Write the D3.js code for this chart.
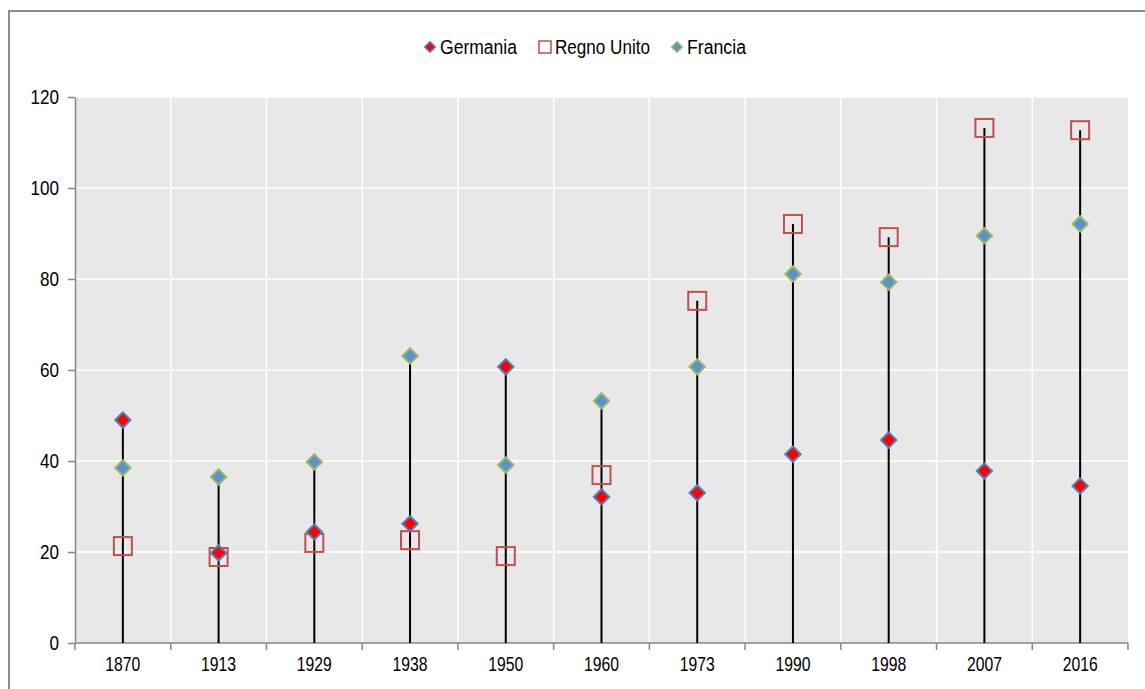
<!DOCTYPE html>
<html>
<head>
<meta charset="utf-8">
<script src="https://cdn.jsdelivr.net/npm/d3@7"></script>
<style>
body { margin: 0; background: #fff; }
text { font-family: "Liberation Sans", Arial, sans-serif; }
</style>
</head>
<body>
<div id="canvas"></div>
<script>
// data
var years = ["1870","1913","1929","1938","1950","1960","1973","1990","1998","2007","2016"];
var germania = [49.0, 19.8, 24.4, 26.2, 60.7, 32.1, 33.0, 41.5, 44.6, 37.8, 34.5];
var regnoUnito = [21.3, 18.9, 22.0, 22.6, 19.1, 36.9, 75.2, 92.1, 89.2, 113.2, 112.7];
var francia = [38.5, 36.5, 39.8, 63.1, 39.1, 53.2, 60.7, 81.1, 79.3, 89.5, 92.1];
var yTicks = [0, 20, 40, 60, 80, 100, 120];

var w = 1145, h = 689;
var pLeft = 75, pRight = 1128, pTop = 97, pBottom = 643;
var fs = "20px";

var paper = d3.select("#canvas").append("svg")
	.attr("width", w)
	.attr("height", h);

// outer frame
paper.append("rect")
	.attr("x", 9).attr("y", 11)
	.attr("width", 1150).attr("height", 700)
	.style("fill", "#fff")
	.style("stroke", "#8c8c8c")
	.style("stroke-width", 2);

var x = d3.scaleBand().domain(years).range([pLeft, pRight]);
var y = d3.scaleLinear().domain([0, 120]).range([pBottom, pTop]);

// plot background
paper.append("rect")
	.attr("x", pLeft).attr("y", pTop)
	.attr("width", pRight - pLeft).attr("height", pBottom - pTop)
	.style("fill", "#e8e8e8");

// grid lines
paper.selectAll(".hgrid").data(yTicks.slice(1)).enter()
	.append("line")
	.attr("x1", pLeft).attr("x2", pRight)
	.attr("y1", d => y(d)).attr("y2", d => y(d))
	.style("stroke", "#fff").style("stroke-width", 1.5);

paper.selectAll(".vgrid").data(years.slice(1)).enter()
	.append("line")
	.attr("x1", d => x(d)).attr("x2", d => x(d))
	.attr("y1", pTop).attr("y2", pBottom)
	.style("stroke", "#fff").style("stroke-width", 1.5);

// axes (text squeezed a bit, the original font is narrow)
var yAxis = paper.append("g")
	.attr("transform", "translate(" + pLeft + ",0)")
	.call(d3.axisLeft(y).tickValues(yTicks).tickSize(7).tickSizeOuter(0).tickPadding(9));
yAxis.selectAll("text")
	.style("font-size", fs).style("fill", "#000")
	.attr("textLength", d => String(d).length * 9.5)
	.attr("lengthAdjust", "spacingAndGlyphs");

var xAxis = paper.append("g")
	.attr("transform", "translate(0," + pBottom + ")")
	.call(d3.axisBottom(x).tickSize(0).tickPadding(14));
xAxis.selectAll("text")
	.style("font-size", fs).style("fill", "#000")
	.attr("textLength", 35)
	.attr("lengthAdjust", "spacingAndGlyphs");
xAxis.select(".domain").remove();

// x tick marks on category boundaries
paper.selectAll(".xtick").data(years.concat([null])).enter()
	.append("line")
	.attr("x1", (d, i) => pLeft + i * x.step())
	.attr("x2", (d, i) => pLeft + i * x.step())
	.attr("y1", pBottom).attr("y2", pBottom + 7)
	.style("stroke", "#868686").style("stroke-width", 1.5);

paper.append("line")
	.attr("x1", pLeft).attr("x2", pRight)
	.attr("y1", pBottom).attr("y2", pBottom)
	.style("stroke", "#868686").style("stroke-width", 1.5);

paper.selectAll(".domain, .tick line")
	.style("stroke", "#868686").style("stroke-width", 1.5);

// hi-lo lines
var cx = d => x(d) + x.bandwidth() / 2;
paper.selectAll(".hilo").data(years).enter()
	.append("line")
	.attr("x1", cx).attr("x2", cx)
	.attr("y1", y(0))
	.attr("y2", (d, i) => y(Math.max(germania[i], regnoUnito[i], francia[i])))
	.style("stroke", "#000").style("stroke-width", 2);

var diamond = d3.symbol().type(d3.symbolDiamond2).size(150);

function drawDiamonds(vals, fill, stroke) {
	paper.selectAll(null).data(vals).enter()
		.append("path")
		.attr("d", diamond)
		.attr("transform", (d, i) => "translate(" + cx(years[i]) + "," + y(d) + ")")
		.style("fill", fill).style("stroke", stroke).style("stroke-width", 2);
}

// Regno Unito squares
paper.selectAll(".uk").data(regnoUnito).enter()
	.append("rect")
	.attr("x", (d, i) => cx(years[i]) - 9)
	.attr("y", d => y(d) - 9)
	.attr("width", 18).attr("height", 18)
	.style("fill", "none").style("stroke", "#c0504d").style("stroke-width", 2);

drawDiamonds(francia, "#5b8fd6", "#9bbb59");
drawDiamonds(germania, "#ff0000", "#4f81bd");

// legend
var lg = paper.append("g").attr("transform", "translate(0,47)");
lg.append("path").attr("d", d3.symbol().type(d3.symbolDiamond2).size(70))
	.attr("transform", "translate(430,0)")
	.style("fill", "#ff0000").style("stroke", "#4f81bd").style("stroke-width", 1.5);
lg.append("text").attr("x", 440).attr("y", 7).text("Germania").style("font-size", fs)
	.attr("textLength", 77).attr("lengthAdjust", "spacingAndGlyphs");
lg.append("rect").attr("x", 539).attr("y", -6).attr("width", 12).attr("height", 12)
	.style("fill", "none").style("stroke", "#c0504d").style("stroke-width", 1.5);
lg.append("text").attr("x", 555).attr("y", 7).text("Regno Unito").style("font-size", fs)
	.attr("textLength", 95).attr("lengthAdjust", "spacingAndGlyphs");
lg.append("path").attr("d", d3.symbol().type(d3.symbolDiamond2).size(70))
	.attr("transform", "translate(677,0)")
	.style("fill", "#5b8fd6").style("stroke", "#9bbb59").style("stroke-width", 1.5);
lg.append("text").attr("x", 687).attr("y", 7).text("Francia").style("font-size", fs)
	.attr("textLength", 59).attr("lengthAdjust", "spacingAndGlyphs");
</script>
</body>
</html>
